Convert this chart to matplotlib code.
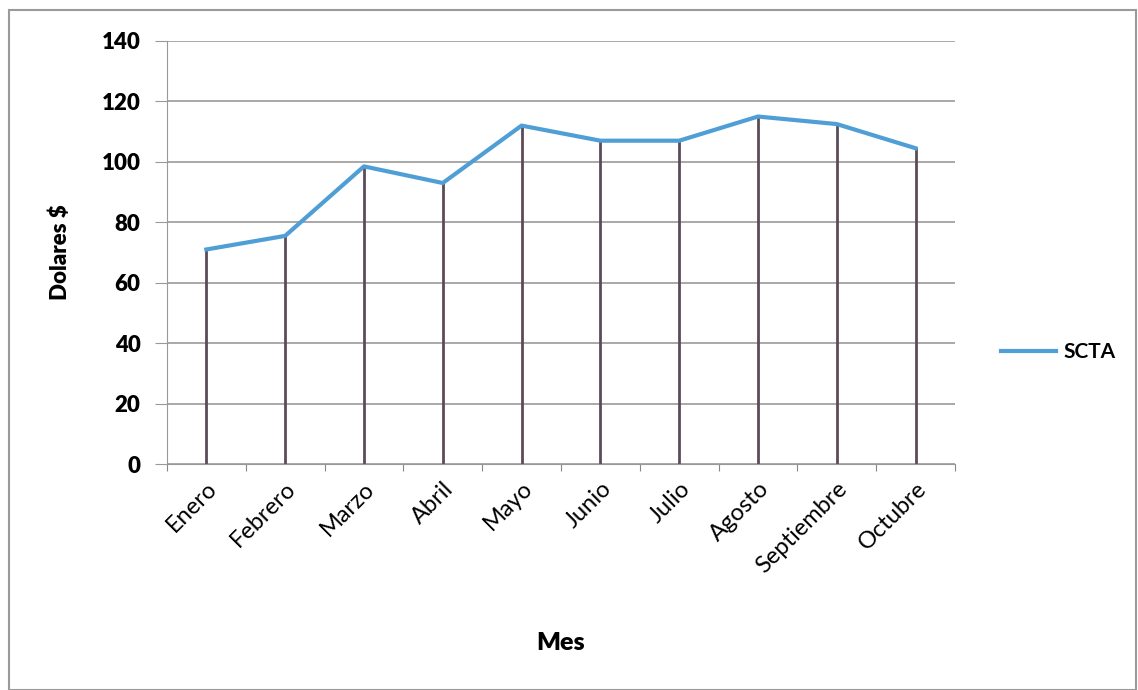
import numpy as np
import matplotlib.pyplot as plt
from matplotlib.patches import Rectangle

meses = ['Enero', 'Febrero', 'Marzo', 'Abril', 'Mayo', 'Junio', 'Julio',
         'Agosto', 'Septiembre', 'Octubre']
scta = [71, 75.5, 98.5, 93, 112, 107, 107, 115, 112.5, 104.5]
yticks = [0, 20, 40, 60, 80, 100, 120, 140]

plt.rcParams['font.family'] = ['Lato', 'DejaVu Sans']

fig = plt.figure(figsize=(11.38, 6.90), dpi=100)
ax = fig.add_axes([0.1467, 0.3275, 0.6925, 0.6131])

x = np.arange(len(meses))
ax.vlines(x, 0, scta, color='#5b4c57', linewidth=2, zorder=2)
ax.plot(x, scta, color='#4f9fd6', linewidth=3, label='SCTA', zorder=3)

ax.set_xlim(-0.5, len(meses) - 0.5)
ax.set_ylim(0, 140)
ax.set_yticks(yticks)
ax.set_yticklabels([str(v) for v in yticks], fontsize=16, fontweight='heavy')
ax.set_xticks(np.arange(len(meses) + 1) - 0.5)
ax.set_xticklabels([])
ax.set_xticks(x, minor=True)
ax.set_xticklabels(meses, minor=True, rotation=45, ha='right',
                   rotation_mode='anchor', fontsize=17)
ax.tick_params(axis='x', which='minor', length=0, pad=10)
ax.tick_params(axis='x', which='major', length=5, color='#888888')
ax.tick_params(axis='y', length=9, color='#999999', pad=10)

ax.grid(axis='y', color='#999999', linewidth=1.2, zorder=1)
for s in ['top', 'right']:
    ax.spines[s].set_visible(False)
ax.spines['left'].set_color('#999999')
ax.spines['bottom'].set_color('#999999')

ax.set_ylabel('Dolares $', fontsize=16, fontweight='heavy', labelpad=22)
ax.set_xlabel('Mes', fontsize=18, fontweight='heavy', labelpad=40)

ax.legend(loc='center left', bbox_to_anchor=(1.035, 0.265), frameon=False,
          prop={'size': 15, 'weight': 'bold'}, handlelength=2.6, handletextpad=0.4)

fig.patches.append(Rectangle((0.008, 0.0), 0.99, 0.985, transform=fig.transFigure,
                             fill=False, edgecolor='#9a9a9a', linewidth=1.5))

plt.savefig('out.png', dpi=100)
